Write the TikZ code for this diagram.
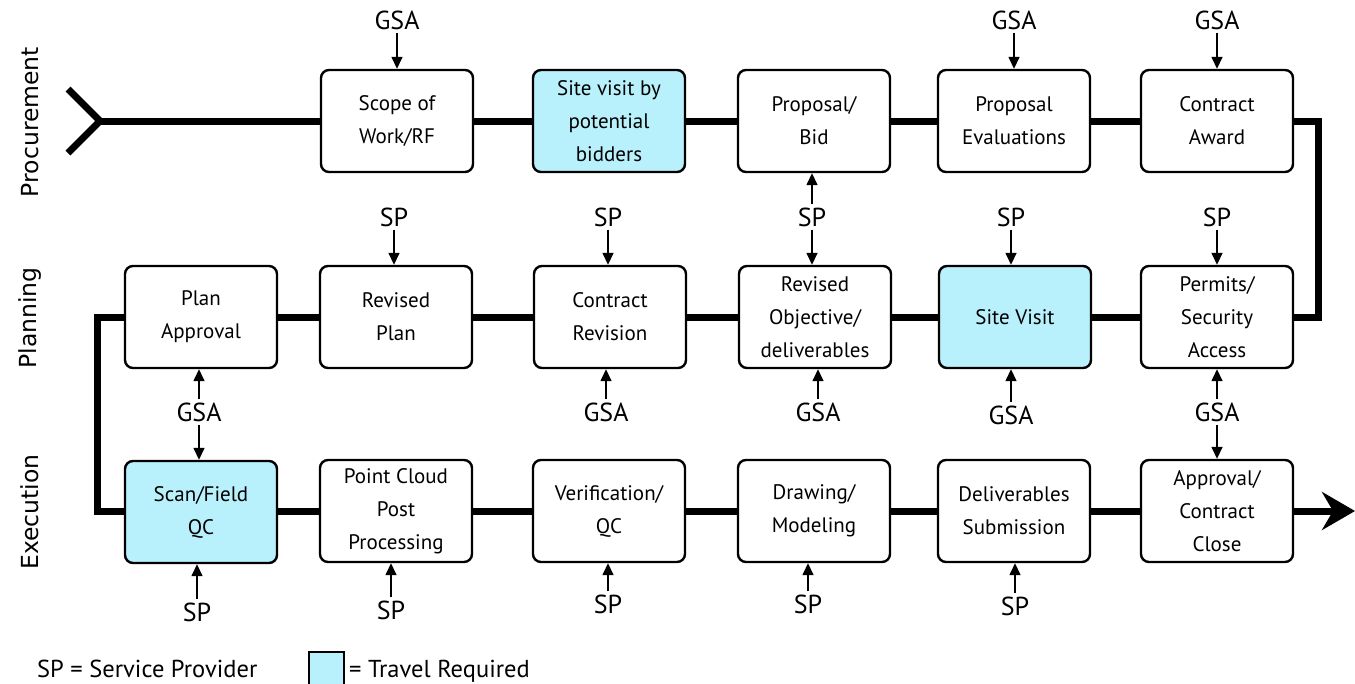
\documentclass[tikz,border=0pt]{standalone}
\usepackage{fontspec}
\setmainfont{PT Sans}
\newfontfamily\lanefont{DejaVu Sans}
\usetikzlibrary{arrows.meta}
\definecolor{travel}{RGB}{184,240,252}
\begin{document}
\begin{tikzpicture}[x=1pt,y=-1pt,
  box/.style={draw, line width=2.4pt, rounded corners=8pt, minimum width=152pt, minimum height=102pt, fill=white, align=center, inner sep=2pt, font=\fontsize{21}{33}\selectfont},
  tbox/.style={box, fill=travel},
  flow/.style={line width=7pt, line join=miter},
  lbl/.style={inner sep=3pt, font=\fontsize{26}{28}\selectfont},
  lane/.style={rotate=90, font=\lanefont\fontsize{23.5}{25}\selectfont},
  sarr/.style={line width=1.5pt, -{Triangle[length=12pt,width=11pt]}},
  legend/.style={inner sep=0pt, font=\fontsize{24.5}{27}\selectfont, anchor=base west},
]
\useasboundingbox (0,0) rectangle (1355,683);

% lane labels
\node[lane] (lproc) at (30,122) {Procurement};
\node[lane] (lplan) at (30,318) {Planning};
\node[lane] (lexec) at (30,512) {Execution};

% row 1
\node[box]  (scope)   at (397,121)  {Scope of\\Work/RF};
\node[tbox] (bidders) at (609,121)  {Site visit by\\potential\\bidders};
\node[box]  (bid)     at (814,121)  {Proposal/\\Bid};
\node[box]  (eval)    at (1014,121) {Proposal\\Evaluations};
\node[box]  (award)   at (1217,121) {Contract\\Award};

% row 2
\node[box]  (plappr)  at (201,317)  {Plan\\Approval};
\node[box]  (rplan)   at (396,317)  {Revised\\Plan};
\node[box]  (crev)    at (610,317)  {Contract\\Revision};
\node[box]  (robj)    at (815,317)  {Revised\\Objective/\\deliverables};
\node[tbox] (svisit)  at (1015,317) {Site Visit};
\node[box]  (permit)  at (1217,317) {Permits/\\Security\\Access};

% row 3
\node[tbox] (scan)    at (201,512)  {Scan/Field\\QC};
\node[box]  (pcloud)  at (396,511)  {Point Cloud\\Post\\Processing};
\node[box]  (verif)   at (609,511)  {Verification/\\QC};
\node[box]  (draw)    at (814,511)  {Drawing/\\Modeling};
\node[box]  (deliv)   at (1014,511) {Deliverables\\Submission};
\node[box]  (close)   at (1217,511) {Approval/\\Contract\\Close};

% flow lines
\coordinate (start) at (100,121);
\draw[flow] (68,89) -- (start) -- (68,153);
\draw[flow] (start) -- (scope.west);
\draw[flow] (scope) -- (bidders);
\draw[flow] (bidders) -- (bid);
\draw[flow] (bid) -- (eval);
\draw[flow] (eval) -- (award);
\coordinate (rturn) at (1318,121);
\draw[flow] (award.east) -- (rturn) |- (permit.east);
\draw[flow] (permit) -- (svisit);
\draw[flow] (svisit) -- (robj);
\draw[flow] (robj) -- (crev);
\draw[flow] (crev) -- (rplan);
\draw[flow] (rplan) -- (plappr);
\coordinate (lturn) at (97,317);
\draw[flow] (plappr.west) -- (lturn) |- (scan.west |- pcloud.west);
\draw[flow] (scan.east |- pcloud.west) -- (pcloud);
\draw[flow] (pcloud) -- (verif);
\draw[flow] (verif) -- (draw);
\draw[flow] (draw) -- (deliv);
\draw[flow] (deliv) -- (close);
\coordinate (end) at (1355,511);
\draw[flow, -{Stealth[length=33pt,width=38pt,inset=11pt]}] (close.east) -- (end);

% labels row 1
\node[lbl] (g1) at (397,20) {GSA};
\draw[sarr] (g1.south) -- (scope.north);
\node[lbl] (g2) at (1014,20) {GSA};
\draw[sarr] (g2.south) -- (eval.north);
\node[lbl] (g3) at (1217,20) {GSA};
\draw[sarr] (g3.south) -- (award.north);
\node[lbl] (s1) at (812,217) {SP};
\draw[sarr] (s1.north) -- (s1.north |- bid.south);
\draw[sarr] (s1.south) -- (s1.south |- robj.north);

% labels row 2
\node[lbl] (s2) at (394,217) {SP};
\draw[sarr] (s2.south) -- (s2.south |- rplan.north);
\node[lbl] (s3) at (608,217) {SP};
\draw[sarr] (s3.south) -- (s3.south |- crev.north);
\node[lbl] (s4) at (1011,217) {SP};
\draw[sarr] (s4.south) -- (s4.south |- svisit.north);
\node[lbl] (s5) at (1217,217) {SP};
\draw[sarr] (s5.south) -- (permit.north);
\node[lbl] (g4) at (199,412) {GSA};
\draw[sarr] (g4.north) -- (g4.north |- plappr.south);
\draw[sarr] (g4.south) -- (g4.south |- scan.north);
\node[lbl] (g5) at (606,412) {GSA};
\draw[sarr] (g5.north) -- (g5.north |- crev.south);
\node[lbl] (g6) at (818,412) {GSA};
\draw[sarr] (g6.north) -- (g6.north |- robj.south);
\node[lbl] (g7) at (1011,415) {GSA};
\draw[sarr] (g7.north) -- (g7.north |- svisit.south);
\node[lbl] (g8) at (1217,412) {GSA};
\draw[sarr] (g8.north) -- (permit.south);
\draw[sarr] (g8.south) -- (close.north);

% labels row 3
\node[lbl] (s6) at (197,612) {SP};
\draw[sarr] (s6.north) -- (s6.north |- scan.south);
\node[lbl] (s7) at (391,610) {SP};
\draw[sarr] (s7.north) -- (s7.north |- pcloud.south);
\node[lbl] (s8) at (608,604) {SP};
\draw[sarr] (s8.north) -- (s8.north |- verif.south);
\node[lbl] (s9) at (808,604) {SP};
\draw[sarr] (s9.north) -- (s9.north |- draw.south);
\node[lbl] (s10) at (1015,606) {SP};
\draw[sarr] (s10.north) -- (s10.north |- deliv.south);

% legend
\node[legend] (leg1) at (37,677) {SP = Service Provider};
\draw[line width=2pt, fill=travel] (309,652) rectangle (344,686);
\node[legend] (leg2) at (349,677) {= Travel Required};
\end{tikzpicture}
\end{document}
